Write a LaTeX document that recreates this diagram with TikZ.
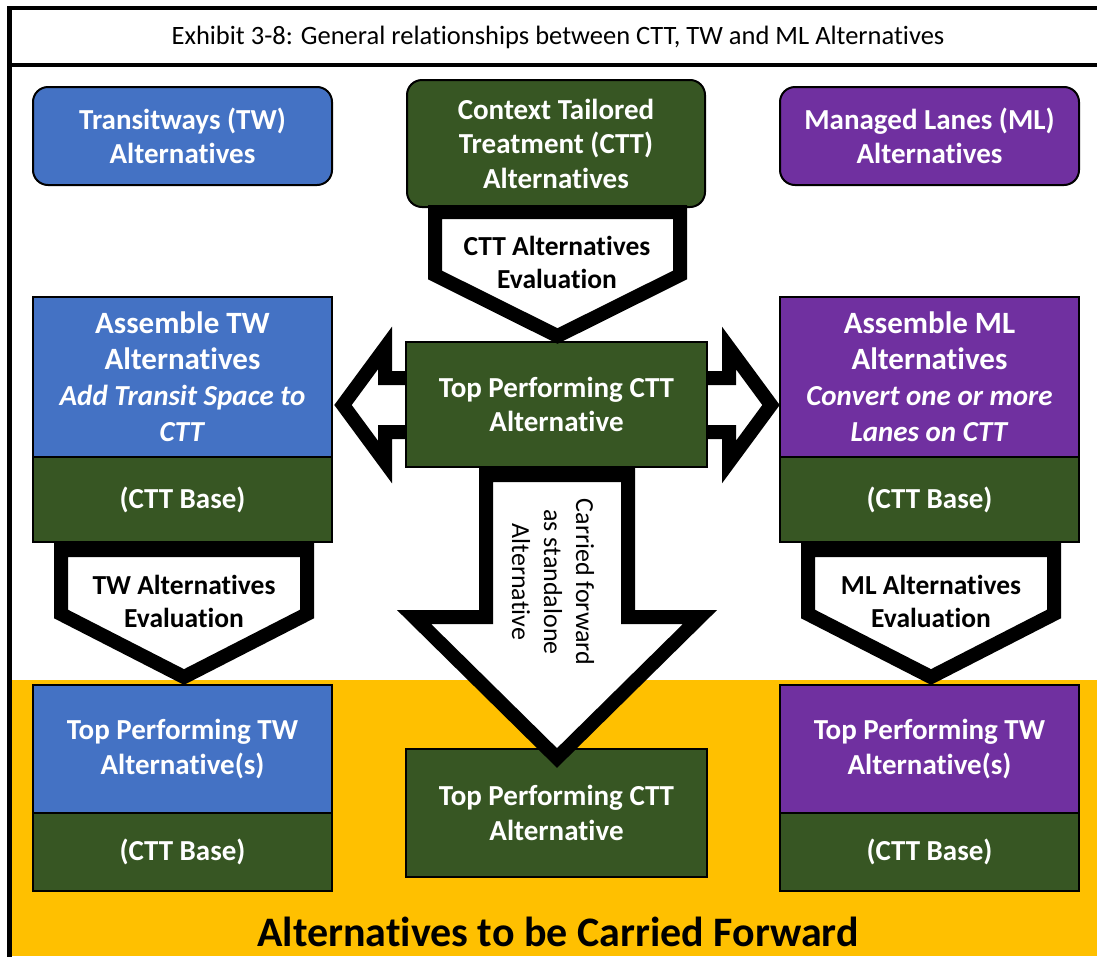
\documentclass[tikz,border=0pt]{standalone}
\usepackage{fontspec}
\setmainfont{Carlito}[Ligatures=NoCommon]
\usepackage{xcolor}
\usetikzlibrary{shapes,arrows,positioning,calc}

\definecolor{twblue}{HTML}{4472C4}
\definecolor{mlpurple}{HTML}{7030A0}
\definecolor{cttgreen}{HTML}{375623}
\definecolor{fwdyellow}{HTML}{FFC000}

\begin{document}
\begin{tikzpicture}[x=1pt, y=-1pt,
    box/.style={draw=black, line width=2pt, outer sep=0pt, inner sep=0pt,
        minimum width=299pt, text=white, align=center,
        font=\fontsize{29}{34.5}\selectfont\bfseries},
    topbox/.style={box, rounded corners=15pt},
    asmbox/.style={box, minimum height=160pt, font=\fontsize{31}{36}\selectfont\bfseries},
    basebox/.style={box, fill=cttgreen, below=0pt of #1},
    evalarrow/.style={draw=black, fill=white, line width=14pt, line join=miter},
    evaltext/.style={align=center, font=\fontsize{27.5}{33}\selectfont\bfseries}]
    \useasboundingbox (0,0) rectangle (1097,956);
    \clip (0,0) rectangle (1097,956);
    \fill[white] (0,0) rectangle (1097,956);
    % Carried forward band
    \fill[fwdyellow] (12,680) rectangle (1097,956);
    % Frame and title
    \draw[line width=4.5pt] (9.5,1000) -- (9.5,8) -- (1200,8);
    \draw[line width=4pt] (9.5,65) -- (1200,65);
    \node[font=\fontsize{26.5}{30}\selectfont] (title) at (558,37)
        {Exhibit 3-8: General relationships between CTT, TW and ML Alternatives};

    % Side arrows (tails under the middle box)
    \draw[evalarrow] (450,378) -- (385,378) -- (385,348) -- (343,405) -- (385,462) -- (385,432) -- (450,432) -- cycle;
    \draw[evalarrow] (664,378) -- (729,378) -- (729,348) -- (771,405) -- (729,462) -- (729,432) -- (664,432) -- cycle;

    % Top row
    \node[topbox, fill=twblue, minimum height=98pt] (twtop) at (182.5,136) {Transitways (TW)\\Alternatives};
    \node[topbox, fill=cttgreen, minimum height=127pt, minimum width=298pt] (ctttop) at (556,143.5) {Context Tailored\\Treatment (CTT)\\Alternatives};
    \node[topbox, fill=mlpurple, minimum height=98pt] (mltop) at (929.5,136) {Managed Lanes (ML)\\Alternatives};

    % Middle row
    \node[asmbox, fill=twblue] (twasm) at (182.5,377) {Assemble TW\\Alternatives\\\fontsize{29}{36}\selectfont\textit{Add Transit Space to}\\\fontsize{29}{36}\selectfont\textit{CTT}};
    \node[basebox=twasm, minimum height=85pt] (twbase) {(CTT Base)};
    \node[box, fill=cttgreen, minimum width=301pt, minimum height=125pt] (cttmid) at (556.5,404.5) {Top Performing CTT\\Alternative};
    \node[asmbox, fill=mlpurple] (mlasm) at (929.5,377) {Assemble ML\\Alternatives\\\fontsize{29}{36}\selectfont\textit{Convert one or more}\\\fontsize{29}{36}\selectfont\textit{Lanes on CTT}};
    \node[basebox=mlasm, minimum height=85pt] (mlbase) {(CTT Base)};

    % Bottom row
    \node[box, fill=twblue, minimum height=128pt] (twbest) at (182.5,749) {Top Performing TW\\Alternative(s)};
    \node[basebox=twbest, minimum height=78pt] (twbestbase) {(CTT Base)};
    \node[box, fill=cttgreen, minimum width=301pt, minimum height=128pt] (cttbest) at (556.5,813) {Top Performing CTT\\Alternative};
    \node[box, fill=mlpurple, minimum height=128pt] (mlbest) at (929.5,749) {Top Performing TW\\Alternative(s)};
    \node[basebox=mlbest, minimum height=78pt] (mlbestbase) {(CTT Base)};

    % Evaluation arrows
    \draw[evalarrow] (435,212) -- (680,212) -- (680,275) -- (557.5,336) -- (435,275) -- cycle;
    \node[evaltext] (ctteval) at (557,262) {CTT Alternatives\\Evaluation};
    \draw[evalarrow] (61,550) -- (307,550) -- (307,614) -- (184,677) -- (61,614) -- cycle;
    \node[evaltext] (tweval) at (184,601) {TW Alternatives\\Evaluation};
    \draw[evalarrow] (808,550) -- (1054,550) -- (1054,614) -- (931,677) -- (808,614) -- cycle;
    \node[evaltext] (mleval) at (931,601) {ML Alternatives\\Evaluation};

    % Standalone arrow
    \draw[evalarrow] (486,475) -- (628,475) -- (628,617) -- (700,617) -- (557,758) -- (414,617) -- (486,617) -- cycle;
    \node[rotate=-90, align=center, font=\fontsize{26}{32}\selectfont] (carried) at (553,582) {Carried forward\\as standalone\\Alternative};

    \node[anchor=base, font=\fontsize{42}{48}\selectfont\bfseries] (fwd) at (558,946) {Alternatives to be Carried Forward};
\end{tikzpicture}
\end{document}
